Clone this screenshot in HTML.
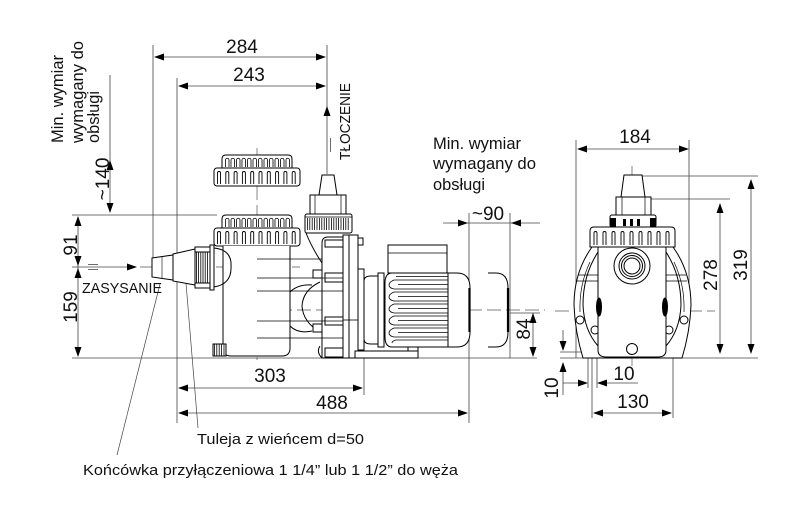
<!DOCTYPE html>
<html><head><meta charset="utf-8"><style>
html,body{margin:0;padding:0;background:#fff;}
svg{display:block;}
text{font-family:"Liberation Sans",sans-serif;fill:#111;}
.d{font-size:19px;text-anchor:middle;}
.l{font-size:15px;}
.m{font-size:16.5px;}
</style></head><body>
<svg width="800" height="512" viewBox="0 0 800 512" xmlns="http://www.w3.org/2000/svg">
<rect width="800" height="512" fill="#fff"/>
<defs>
<g id="lid">
 <path d="M222,228 L222,219 Q222,215 226,215 L288,215 Q292,215 292,219 L292,228" fill="#fff" stroke="#000" stroke-width="1"/>
 <path d="M225.5,227 v-7 a1.75,1.75 0 0 1 3.5,0 v7 m2,0 v-7 a1.75,1.75 0 0 1 3.5,0 v7 m2,0 v-7 a1.75,1.75 0 0 1 3.5,0 v7 m2,0 v-7 a1.75,1.75 0 0 1 3.5,0 v7 m2,0 v-7 a1.75,1.75 0 0 1 3.5,0 v7 m2,0 v-7 a1.75,1.75 0 0 1 3.5,0 v7 m2,0 v-7 a1.75,1.75 0 0 1 3.5,0 v7 m2,0 v-7 a1.75,1.75 0 0 1 3.5,0 v7 m2,0 v-7 a1.75,1.75 0 0 1 3.5,0 v7 m2,0 v-7 a1.75,1.75 0 0 1 3.5,0 v7 m2,0 v-7 a1.75,1.75 0 0 1 3.5,0 v7 m2,0 v-7 a1.75,1.75 0 0 1 3.5,0 v7" fill="none" stroke="#000" stroke-width="0.8"/>
 <rect x="214" y="228" width="86" height="18" rx="3" fill="#fff" stroke="#000" stroke-width="1"/>
 <path d="M217.5,244 v-11 a1.5,1.5 0 0 1 3,0 v11 m5.3,0 v-11 a1.5,1.5 0 0 1 3,0 v11 m5.3,0 v-11 a1.5,1.5 0 0 1 3,0 v11 m5.3,0 v-11 a1.5,1.5 0 0 1 3,0 v11 m5.3,0 v-11 a1.5,1.5 0 0 1 3,0 v11 m5.3,0 v-11 a1.5,1.5 0 0 1 3,0 v11 m5.3,0 v-11 a1.5,1.5 0 0 1 3,0 v11 m5.3,0 v-11 a1.5,1.5 0 0 1 3,0 v11 m5.3,0 v-11 a1.5,1.5 0 0 1 3,0 v11 m5.3,0 v-11 a1.5,1.5 0 0 1 3,0 v11" fill="none" stroke="#000" stroke-width="0.9"/>
</g>
</defs>

<!-- ============ EXTENSION / DIMENSION LINES (main view) ============ -->
<g stroke="#444" stroke-width="0.8" fill="none">
 <line x1="153" y1="45" x2="153" y2="260"/>
 <line x1="177" y1="78" x2="177" y2="423"/>
 <line x1="327" y1="45" x2="327" y2="174"/>
 <line x1="330.5" y1="138" x2="330.5" y2="152"/>
 <line x1="155" y1="57" x2="325" y2="57"/>
 <line x1="179" y1="86" x2="325" y2="86"/>
 <line x1="110" y1="75" x2="110" y2="212"/>
 <line x1="72" y1="215" x2="217" y2="215"/>
 <line x1="78" y1="217" x2="78" y2="356"/>
 <line x1="72" y1="267" x2="136" y2="267"/>
 <line x1="88" y1="264.5" x2="98" y2="264.5"/>
 <line x1="88" y1="269.5" x2="98" y2="269.5"/>
 <line x1="72" y1="358" x2="537" y2="358"/>
 <line x1="364" y1="345" x2="364" y2="395"/>
 <line x1="469" y1="213" x2="469" y2="423"/>
 <line x1="510" y1="213" x2="510" y2="358"/>
 <line x1="180" y1="388" x2="362" y2="388"/>
 <line x1="180" y1="413" x2="467" y2="413"/>
 <line x1="443" y1="223" x2="540" y2="223"/>
 <line x1="533" y1="313" x2="533" y2="356"/>
 <line x1="510" y1="313" x2="540" y2="313"/>
 <!-- leaders -->
 <line x1="117" y1="455" x2="160" y2="284" stroke-width="0.7"/>
 <line x1="198" y1="428" x2="186" y2="283" stroke-width="0.7"/>
</g>

<!-- centre lines -->
<g stroke="#555" stroke-width="0.7" fill="none" stroke-dasharray="14 5">
 <line x1="140" y1="267" x2="300" y2="267"/>
 <line x1="240" y1="310" x2="545" y2="310"/>
 <line x1="257" y1="148" x2="257" y2="360"/>
 <line x1="555" y1="311" x2="715" y2="311"/>
 <line x1="632" y1="166" x2="632" y2="366"/>
</g>

<!-- ============ ARROWHEADS ============ -->
<g fill="#000">
 <polygon points="154,57 164,53.5 164,60.5"/>
 <polygon points="326,57 316,53.5 316,60.5"/>
 <polygon points="178,86 188,82.5 188,89.5"/>
 <polygon points="326,86 316,82.5 316,89.5"/>
 <polygon points="327,106 323.5,116 330.5,116"/>
 <polygon points="110,160 106.5,170 113.5,170"/>
 <polygon points="110,213 106.5,203 113.5,203"/>
 <polygon points="78,216 74.5,226 81.5,226"/>
 <polygon points="78,266 74.5,256 81.5,256"/>
 <polygon points="78,268 74.5,278 81.5,278"/>
 <polygon points="78,357 74.5,347 81.5,347"/>
 <polygon points="137,267 127,263.5 127,270.5"/>
 <polygon points="178,388 188,384.5 188,391.5"/>
 <polygon points="363,388 353,384.5 353,391.5"/>
 <polygon points="178,413 188,409.5 188,416.5"/>
 <polygon points="468,413 458,409.5 458,416.5"/>
 <polygon points="468,223 458,219.5 458,226.5"/>
 <polygon points="511,223 521,219.5 521,226.5"/>
 <polygon points="533,313 529.5,323 536.5,323"/>
 <polygon points="533,357 529.5,347 536.5,347"/>
</g>

<!-- ============ MAIN VIEW PUMP ============ -->
<g stroke="#000" stroke-width="1" fill="#fff">
 <!-- exploded lid + lid -->
 <use href="#lid" transform="translate(0,-60)"/>
 <use href="#lid"/>

 <!-- hose tail & bush -->
 <polygon points="152,258 173,255 173,280 152,277"/>
 <line x1="162" y1="257" x2="162" y2="278" stroke-width="0.6"/>
 <polygon points="173,254 195,249 195,285 173,281"/>
 <!-- nut -->
 <rect x="195" y="247" width="15" height="41"/>
 <line x1="196" y1="267.5" x2="209" y2="267.5" stroke-width="30" stroke-dasharray="0.8 1.4" fill="none"/>
 <line x1="195" y1="252" x2="210" y2="252"/>
 <line x1="195" y1="283" x2="210" y2="283"/>
 <rect x="210" y="245" width="4" height="45"/>
 <!-- pot -->
 <path d="M223,246 L223,348 Q223,356 231,356 L282,356 Q290,356 290,348 L290,246"/>
 <path d="M214,248 Q232,250 231,266 Q232,284 214,287" fill="none"/>
 <!-- drain plug -->
 <rect x="213" y="344" width="13" height="12"/>
 <line x1="214" y1="350" x2="225" y2="350" stroke-width="11" stroke-dasharray="0.8 1.6" fill="none"/>
 <!-- neck -->
 <path d="M290,292 Q298,284 312,285" fill="none"/>
 <path d="M290,326 Q298,334 312,331" fill="none"/>
 <!-- discharge -->
 <polygon points="322,175 334,175 337,195 319,195"/>
 <rect x="310" y="195" width="36" height="19"/>
 <line x1="315" y1="195" x2="315" y2="214" stroke-width="0.7"/>
 <line x1="341" y1="195" x2="341" y2="214" stroke-width="0.7"/>
 <rect x="305" y="214" width="47" height="19" rx="2"/>
 <line x1="307" y1="224" x2="350" y2="224" stroke-width="12" stroke-dasharray="0.8 1.6" fill="none"/>
 <line x1="305" y1="217" x2="352" y2="217" stroke-width="0.7"/>
 <!-- volute contour -->
 <path d="M306,233 Q312,248 322,263" fill="none"/>
 <path d="M320,282 Q303,290 302,306 Q303,322 320,332" fill="none"/>
 <path d="M320,346 Q316,352 322,358" fill="none"/>
 <rect x="313" y="270" width="10" height="8"/>
 <rect x="313" y="324" width="10" height="8"/>
 <!-- flange body -->
 <path d="M322,358 L322,243 Q322,237 328,237 L343,237 L343,358 Z"/>
 <rect x="325" y="240" width="18" height="7"/>
 <rect x="325" y="273" width="18" height="9"/>
 <rect x="325" y="317" width="18" height="8"/>
 <rect x="325" y="348" width="18" height="9"/>
 <rect x="343" y="235" width="6" height="123"/>
 <rect x="349" y="235" width="9" height="123"/>
 <rect x="358" y="238" width="5" height="7"/>
 <rect x="358" y="269" width="6" height="81"/>
 <path d="M364,281 Q364,276 371,276 L378,276 L378,344 L371,344 Q364,344 364,339 Z"/>
 <rect x="378" y="273" width="6" height="74"/>
 <!-- feet -->
 <rect x="355" y="351" width="63" height="7"/>
 <rect x="408" y="346" width="10" height="5"/>
 <!-- terminal box -->
 <rect x="388" y="245" width="59" height="28"/>
 <line x1="388" y1="253" x2="447" y2="253" stroke-width="0.7"/>
 <rect x="398" y="273" width="44" height="5"/>
 <!-- motor body -->
 <path d="M448,273 L392,273 Q385,273 385,283 L385,337 Q385,347 392,347 L448,347"/>
 <!-- fan cover -->
 <path d="M448,273 L457,273 Q470,273 470,288 L470,332 Q470,347 457,347 L448,347 Z"/>
 <line x1="469.5" y1="288" x2="469.5" y2="332" stroke-width="2.2"/>
 <!-- service outline -->
 <path d="M488,273 L496,273 Q508,273 508,288 L508,332 Q508,347 496,347 L488,347" fill="none"/>
 <line x1="508" y1="288" x2="508" y2="332" stroke-width="2.2"/>
</g>
<!-- motor fins -->
<g stroke="#000" stroke-width="0.8" fill="none">
 <path d="M448,280 L394,280 Q389,282 389,285 Q389,288 394,289 L448,289"/>
 <path d="M448,292 L394,292 Q389,294 389,297 Q389,300 394,301 L448,301"/>
 <path d="M448,304 L394,304 Q389,306 389,309 Q389,312 394,313 L448,313"/>
 <path d="M448,316 L394,316 Q389,318 389,321 Q389,324 394,325 L448,325"/>
 <path d="M448,328 L394,328 Q389,330 389,333 Q389,336 394,337 L448,337"/>
 <path d="M448,340 L396,340 Q392,341 392,343"/>
 <path d="M448,276.5 L396,276.5"/>
 <line x1="398" y1="284.5" x2="448" y2="284.5"/>
 <line x1="398" y1="296.5" x2="448" y2="296.5"/>
 <line x1="398" y1="308.5" x2="448" y2="308.5"/>
 <line x1="398" y1="320.5" x2="448" y2="320.5"/>
 <line x1="398" y1="332.5" x2="448" y2="332.5"/>
 <!-- internal lines -->
 <line x1="257" y1="259" x2="322" y2="259"/>
 <line x1="257" y1="278" x2="343" y2="278"/>
 <line x1="257" y1="291" x2="343" y2="291"/>
 <line x1="257" y1="321" x2="343" y2="321"/>
 <line x1="257" y1="338" x2="343" y2="338"/>
 <line x1="343" y1="320" x2="358" y2="320"/>
</g>

<!-- ============ RIGHT VIEW ============ -->
<g stroke="#444" stroke-width="0.8" fill="none">
 <line x1="576" y1="140" x2="576" y2="358"/>
 <line x1="689" y1="140" x2="689" y2="312"/>
 <line x1="579" y1="149" x2="687" y2="149"/>
 <line x1="625" y1="176" x2="758" y2="176"/>
 <line x1="617" y1="199" x2="730" y2="199"/>
 <line x1="751" y1="181" x2="751" y2="352"/>
 <line x1="720" y1="205" x2="720" y2="352"/>
 <line x1="560" y1="358" x2="758" y2="358"/>
 <line x1="560" y1="352" x2="600" y2="352"/>
 <line x1="563" y1="330" x2="563" y2="350"/>
 <line x1="563" y1="363" x2="563" y2="395"/>
 <line x1="563" y1="383" x2="587" y2="383"/>
 <line x1="598" y1="383" x2="638" y2="383"/>
 <line x1="588" y1="358" x2="588" y2="388"/>
 <line x1="592" y1="358" x2="592" y2="418"/>
 <line x1="597" y1="352" x2="597" y2="388"/>
 <line x1="673" y1="358" x2="673" y2="418"/>
 <line x1="594" y1="413" x2="671" y2="413"/>
</g>
<g fill="#000">
 <polygon points="577,149 587,145.5 587,152.5"/>
 <polygon points="689,149 679,145.5 679,152.5"/>
 <polygon points="751,179 747.5,189 754.5,189"/>
 <polygon points="751,354 747.5,344 754.5,344"/>
 <polygon points="720,203 716.5,213 723.5,213"/>
 <polygon points="720,354 716.5,344 723.5,344"/>
 <polygon points="563,351 559.5,341 566.5,341"/>
 <polygon points="563,362 559.5,372 566.5,372"/>
 <polygon points="588,383 578,379.5 578,386.5"/>
 <polygon points="597,383 607,379.5 607,386.5"/>
 <polygon points="593,413 603,409.5 603,416.5"/>
 <polygon points="672,413 662,409.5 662,416.5"/>
</g>
<g stroke="#000" stroke-width="1" fill="#fff">
 <path d="M592,247 Q574,272 574,305 Q575,332 583,358 L682,358 Q690,332 691,305 Q691,272 673,247 Z"/>
 <path d="M598,252 Q583,275 583,305 Q584,330 598,346" fill="none"/>
 <path d="M666,252 Q681,275 681,305 Q680,330 666,346" fill="none"/>
 <path d="M590,262 Q579,285 580,312" fill="none" stroke-width="0.7"/>
 <path d="M674,262 Q685,285 684,312" fill="none" stroke-width="0.7"/>
 <line x1="578" y1="275" x2="598" y2="275" stroke-width="0.7"/>
 <line x1="577" y1="281" x2="598" y2="281" stroke-width="0.7"/>
 <line x1="666" y1="275" x2="686" y2="275" stroke-width="0.7"/>
 <line x1="666" y1="281" x2="687" y2="281" stroke-width="0.7"/>
 <circle cx="580" cy="320" r="4"/>
 <circle cx="595" cy="330" r="4"/>
 <circle cx="684" cy="320" r="4"/>
 <circle cx="669" cy="330" r="4"/>
 <path d="M598,247 L598,350 Q598,357 606,357 L658,357 Q666,357 666,350 L666,247"/>
 <ellipse cx="599" cy="307" rx="2.5" ry="9" fill="#000"/>
 <ellipse cx="665" cy="307" rx="2.5" ry="9" fill="#000"/>
 <circle cx="632" cy="266" r="18"/>
 <circle cx="632" cy="266" r="13"/>
 <circle cx="632" cy="266" r="10.5"/>
 <circle cx="632" cy="266" r="8"/>
 <circle cx="632" cy="349" r="5.5"/>
 <path d="M590,247 L590,231 Q590,227 594,227 L671,227 Q675,227 675,231 L675,247 Z"/>
 <path d="M594,245 v-12 a1.5,1.5 0 0 1 3,0 v12 m6,0 v-12 a1.5,1.5 0 0 1 3,0 v12 m6,0 v-12 a1.5,1.5 0 0 1 3,0 v12 m6,0 v-12 a1.5,1.5 0 0 1 3,0 v12 m6,0 v-12 a1.5,1.5 0 0 1 3,0 v12 m6,0 v-12 a1.5,1.5 0 0 1 3,0 v12 m6,0 v-12 a1.5,1.5 0 0 1 3,0 v12 m6,0 v-12 a1.5,1.5 0 0 1 3,0 v12 m6,0 v-12 a1.5,1.5 0 0 1 3,0 v12" fill="none" stroke-width="0.9"/>
 <rect x="610" y="215" width="46" height="12" rx="2"/>
 <polygon points="624,175 642,175 645,197 621,197"/>
 <rect x="616" y="197" width="35" height="18"/>
 <line x1="622" y1="197" x2="622" y2="215" stroke-width="0.7"/>
 <line x1="645" y1="197" x2="645" y2="215" stroke-width="0.7"/>
</g>
<g fill="#000">
 <rect x="610" y="218" width="6" height="9"/>
 <rect x="650" y="218" width="6" height="9"/>
 <rect x="623" y="219" width="3" height="7"/>
 <rect x="630" y="219" width="3" height="7"/>
 <rect x="637" y="219" width="3" height="7"/>
</g>

<!-- ============ TEXT ============ -->
<text class="d" x="242" y="53">284</text>
<text class="d" x="249" y="81">243</text>
<text class="l" transform="translate(350,160) rotate(-90)" textLength="77" lengthAdjust="spacingAndGlyphs">TŁOCZENIE</text>
<text class="m" transform="translate(63,143) rotate(-90)" textLength="88" lengthAdjust="spacingAndGlyphs">Min. wymiar</text>
<text class="m" transform="translate(83,143) rotate(-90)" textLength="102" lengthAdjust="spacingAndGlyphs">wymagany do</text>
<text class="m" transform="translate(99,143) rotate(-90)" textLength="52" lengthAdjust="spacingAndGlyphs">obsługi</text>
<text class="d" transform="translate(109,179) rotate(-90)">~140</text>
<text class="d" transform="translate(77,245) rotate(-90)">91</text>
<text class="d" transform="translate(77,307) rotate(-90)">159</text>
<text class="l" x="82" y="293" textLength="80" lengthAdjust="spacingAndGlyphs">ZASYSANIE</text>
<text class="d" x="270" y="382">303</text>
<text class="d" x="332" y="409">488</text>
<text class="l" x="197" y="444" textLength="167" lengthAdjust="spacingAndGlyphs">Tuleja z wieńcem d=50</text>
<text class="l" x="83" y="475" textLength="375" lengthAdjust="spacingAndGlyphs">Końcówka przyłączeniowa 1 1/4” lub 1 1/2” do węża</text>
<text class="m" x="433" y="149" textLength="88" lengthAdjust="spacingAndGlyphs">Min. wymiar</text>
<text class="m" x="433" y="169" textLength="103" lengthAdjust="spacingAndGlyphs">wymagany do</text>
<text class="m" x="433" y="190" textLength="52" lengthAdjust="spacingAndGlyphs">obsługi</text>
<text class="d" x="488" y="220">~90</text>
<text class="d" transform="translate(530,329) rotate(-90)">84</text>
<text class="d" x="635" y="143">184</text>
<text class="d" transform="translate(747,265) rotate(-90)">319</text>
<text class="d" transform="translate(717,275) rotate(-90)">278</text>
<text class="d" transform="translate(558,388) rotate(-90)">10</text>
<text class="d" x="624" y="380">10</text>
<text class="d" x="633" y="408">130</text>
</svg>
</body></html>
